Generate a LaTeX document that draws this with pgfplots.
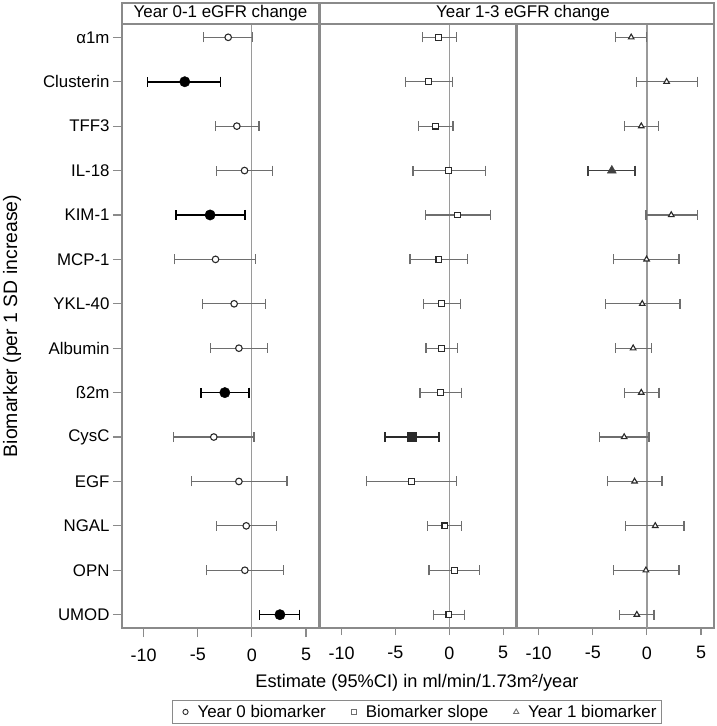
\documentclass[border=0pt]{standalone}
\usepackage{pgfplots}
\usepackage{pgfplotstable}
\pgfplotsset{compat=1.18}
\usepackage{fontspec}
\setmainfont{Liberation Sans}

\definecolor{framegray}{HTML}{8A8A8A}
\definecolor{bargray}{HTML}{6E6E6E}
\definecolor{zerogray}{HTML}{9A9A9A}
\definecolor{markdark}{HTML}{2A2A2A}

% row, estimate, lower, upper, significant flag for the three models
% a = year 0 biomarker (year 0-1), b = biomarker slope, c = year 1 biomarker
\pgfplotstableread{
row a alo ahi as b blo bhi bs c clo chi cs
1  -2.19 -4.44  0.09 0  -0.99 -2.47  0.65 0  -1.45 -2.93 -0.06 0
2  -6.20 -9.66 -2.90 1  -1.91 -4.04  0.31 0   1.82 -0.99  4.69 0
3  -1.39 -3.33  0.65 0  -1.30 -2.84  0.34 0  -0.52 -2.07  1.08 0
4  -0.68 -3.24  1.94 0  -0.06 -3.36  3.33 0  -3.24 -5.43 -1.11 1
5  -3.86 -7.00 -0.62 1   0.77 -2.19  3.80 0   2.25 -0.09  4.69 0
6  -3.36 -7.16  0.37 0  -0.96 -3.64  1.73 0  -0.03 -3.06  2.96 0
7  -1.64 -4.54  1.27 0  -0.74 -2.41  1.02 0  -0.43 -3.86  3.06 0
8  -1.20 -3.83  1.42 0  -0.71 -2.16  0.80 0  -1.27 -2.90  0.43 0
9  -2.50 -4.72 -0.28 1  -0.83 -2.72  1.11 0  -0.52 -2.10  1.11 0
10 -3.52 -7.25  0.19 0  -3.49 -5.99 -0.93 1  -2.10 -4.38  0.19 0
11 -1.20 -5.59  3.24 0  -3.52 -7.72  0.68 0  -1.14 -3.61  1.39 0
12 -0.52 -3.24  2.25 0  -0.40 -2.00  1.17 0   0.77 -1.98  3.43 0
13 -0.65 -4.20  2.93 0   0.52 -1.88  2.81 0  -0.09 -3.09  2.96 0
14  2.59  0.71  4.41 1  -0.03 -1.48  1.42 0  -0.93 -2.50  0.65 0
}\data

\pgfplotsset{
  panel/.style={
    scale only axis, height=604bp,
    xmin=-12, xmax=6.2, ymin=0.7, ymax=14.3, y dir=reverse,
    axis line style={framegray, line width=1.2bp},
    xtick={-10,-5,0,5}, xticklabels={-10,-5,0,5},
    xtick pos=bottom, tick align=outside,
    major tick length=7bp,
    tick style={framegray, line width=1.1bp},
    xticklabel style={font=\fontsize{18}{20}\selectfont, yshift=-8bp},
    yticklabel style={font=\fontsize{16.9}{19}\selectfont},
    clip=false,
  },
  opnbars/.style={error bars/.cd, x dir=both, x explicit, error mark=|,
    error bar style={bargray, line width=1.2bp},
    error mark options={bargray, mark size=5bp, line width=1.2bp}},
  sigbars/.style={error bars/.cd, x dir=both, x explicit, error mark=|,
    error bar style={#1, line width=1.6bp},
    error mark options={#1, mark size=5bp, line width=1.6bp}},
}

\begin{document}
\begin{tikzpicture}[x=1bp,y=1bp]
\useasboundingbox (0,0) rectangle (717,726);

% panel 1: year 0-1 eGFR change
\begin{axis}[panel, width=197bp, at={(122bp,98bp)}, anchor=south west,
  ytick={1,...,14}, ytick pos=left,
  yticklabels={α1m,Clusterin,TFF3,IL-18,KIM-1,MCP-1,YKL-40,Albumin,ß2m,CysC,EGF,NGAL,OPN,UMOD},
  major tick length=9bp]
  \addplot[zerogray, line width=1.2bp] coordinates {(0,0.7) (0,14.3)};
  \addplot[only marks, mark=*, mark size=3.3bp, mark options={fill=white, draw=markdark, line width=1.1bp},
    restrict expr to domain={\thisrow{as}}{0:0}, opnbars]
    table[x=a, y=row, x error plus expr=\thisrow{ahi}-\thisrow{a}, x error minus expr=\thisrow{a}-\thisrow{alo}] {\data};
  \addplot[only marks, mark=*, mark size=5.2bp, mark options={fill=black, draw=black},
    restrict expr to domain={\thisrow{as}}{1:1}, sigbars=black]
    table[x=a, y=row, x error plus expr=\thisrow{ahi}-\thisrow{a}, x error minus expr=\thisrow{a}-\thisrow{alo}] {\data};
\end{axis}

% panel 2: biomarker slope
\begin{axis}[panel, width=196bp, at={(320bp,98bp)}, anchor=south west, ytick=\empty,
  legend style={at={(0.495,-0.139)}, anchor=center, draw=framegray, line width=0.9bp,
    font=\fontsize{17}{19}\selectfont, inner sep=3bp},
  legend columns=3,
  legend image code/.code={\path[draw=none] (0bp,0bp) -- (20bp,0bp); \draw[#1] plot coordinates {(10bp,0bp)};},
  /tikz/every even column/.append style={column sep=16bp}]
  \addlegendimage{only marks, mark=o, mark size=2.6bp, markdark, line width=0.9bp}
  \addlegendentry{Year 0 biomarker}
  \addlegendimage{only marks, mark=square, mark size=2.6bp, bargray, line width=0.9bp}
  \addlegendentry{Biomarker slope}
  \addlegendimage{only marks, mark=triangle, mark size=3bp, bargray, line width=0.9bp}
  \addlegendentry{Year 1 biomarker}
  \addplot[zerogray, line width=1.2bp, forget plot] coordinates {(0,0.7) (0,14.3)};
  \addplot[forget plot, only marks, mark=square*, mark size=2.9bp, mark options={fill=white, draw=markdark, line width=1.1bp},
    restrict expr to domain={\thisrow{bs}}{0:0}, opnbars]
    table[x=b, y=row, x error plus expr=\thisrow{bhi}-\thisrow{b}, x error minus expr=\thisrow{b}-\thisrow{blo}] {\data};
  \addplot[forget plot, only marks, mark=square*, mark size=4.6bp, mark options={fill=markdark, draw=markdark},
    restrict expr to domain={\thisrow{bs}}{1:1}, sigbars=markdark]
    table[x=b, y=row, x error plus expr=\thisrow{bhi}-\thisrow{b}, x error minus expr=\thisrow{b}-\thisrow{blo}] {\data};
\end{axis}

% panel 3: year 1 biomarker
\begin{axis}[panel, width=197bp, at={(517bp,98bp)}, anchor=south west, ytick=\empty]
  \addplot[zerogray, line width=1.2bp] coordinates {(0,0.7) (0,14.3)};
  \addplot[only marks, mark=triangle*, mark size=3.2bp, mark options={fill=white, draw=markdark, line width=1.1bp},
    restrict expr to domain={\thisrow{cs}}{0:0}, opnbars]
    table[x=c, y=row, x error plus expr=\thisrow{chi}-\thisrow{c}, x error minus expr=\thisrow{c}-\thisrow{clo}] {\data};
  \addplot[only marks, mark=triangle*, mark size=5.2bp, mark options={fill=black!75, draw=black!75},
    restrict expr to domain={\thisrow{cs}}{1:1}, sigbars=black!75]
    table[x=c, y=row, x error plus expr=\thisrow{chi}-\thisrow{c}, x error minus expr=\thisrow{c}-\thisrow{clo}] {\data};
\end{axis}

% header boxes
\draw[framegray, line width=1.2bp] (122,702) rectangle (319,723);
\draw[framegray, line width=1.2bp] (320,702) rectangle (714,723);
\node[font=\fontsize{17}{19}\selectfont] at (220.5,712.5) {Year 0-1 eGFR change};
\node[font=\fontsize{17}{19}\selectfont] at (523,712.5) {Year 1-3 eGFR change};

% axis titles
\node[font=\fontsize{18.3}{20}\selectfont] at (417,43) {Estimate (95\%CI) in ml/min/1.73m²/year};
\node[font=\fontsize{19.5}{21}\selectfont, rotate=90] at (12,400) {Biomarker (per 1 SD increase)};
\end{tikzpicture}
\end{document}
